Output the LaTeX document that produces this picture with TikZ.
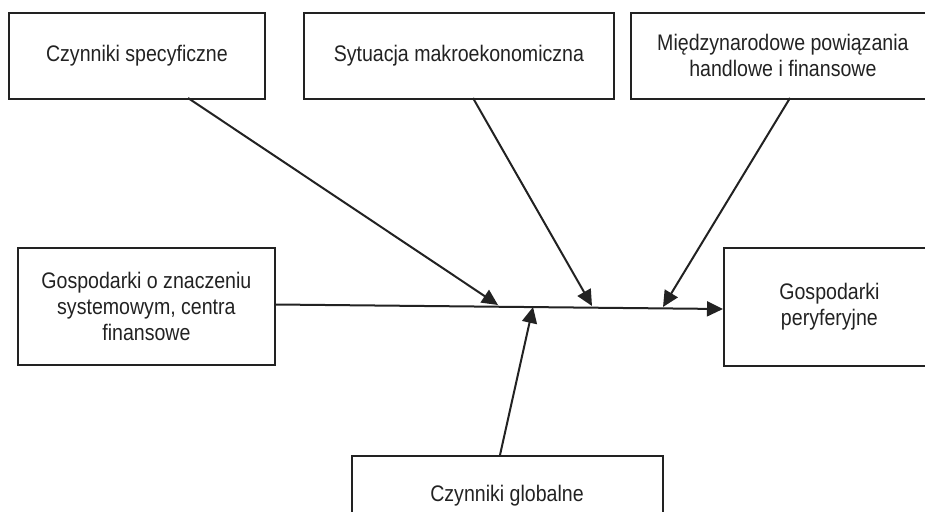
\documentclass[tikz,border=0pt]{standalone}
\usepackage{fontspec}
\setmainfont{Liberation Sans}[FakeStretch=0.87]
\usetikzlibrary{arrows.meta}
\definecolor{ink}{HTML}{222222}
\begin{document}
\begin{tikzpicture}[x=1pt,y=-1pt,
  box/.style={draw=ink,line width=1.8pt,inner sep=0pt,anchor=north west,align=center,
    text=ink,font=\fontsize{22.5}{26}\selectfont},
  lbl/.style={text=ink,align=center,font=\fontsize{22.5}{26}\selectfont},
  arr/.style={draw=ink,line width=2pt,-{Triangle[length=16pt,width=15pt]}}]
\useasboundingbox (0,0) rectangle (925,511);
\clip (0,0) rectangle (925,511);
\node[box,minimum width=256pt,minimum height=86pt] (b1) at (8,12) {Czynniki specyficzne};
\node[box,minimum width=310pt,minimum height=86pt] (b2) at (303,12) {Sytuacja makroekonomiczna};
\node[box,minimum width=304pt,minimum height=86pt] (b3) at (630,12) {Międzynarodowe powiązania\\handlowe i finansowe};
\node[box,minimum width=257pt,minimum height=117pt] (b4) at (17,247) {Gospodarki o znaczeniu\\systemowym, centra\\finansowe};
\node[box,minimum width=211pt,minimum height=118pt] (b5) at (723,247) {Gospodarki\\peryferyjne};
\node[box,minimum width=311pt,minimum height=100pt] (b6) at (351,455) {};
\node[lbl] (t6) at (507,496) {Czynniki globalne};
% connector end points
\coordinate (s4) at (b4.east |- 0,304.5);
\coordinate (e5) at (b5.west |- 0,309);
\coordinate (s1) at (188,98);
\coordinate (e1) at (498,305);
\coordinate (s2) at (473,98);
\coordinate (e2) at (592,306);
\coordinate (s3) at (790,98);
\coordinate (e3) at (663,307);
\coordinate (s6) at (500,455);
\coordinate (e6) at (533,307);
\draw[arr] (s4) -- (e5);
\draw[arr] (s1) -- (e1);
\draw[arr] (s2) -- (e2);
\draw[arr] (s3) -- (e3);
\draw[arr] (s6) -- (e6);
\end{tikzpicture}
\end{document}
